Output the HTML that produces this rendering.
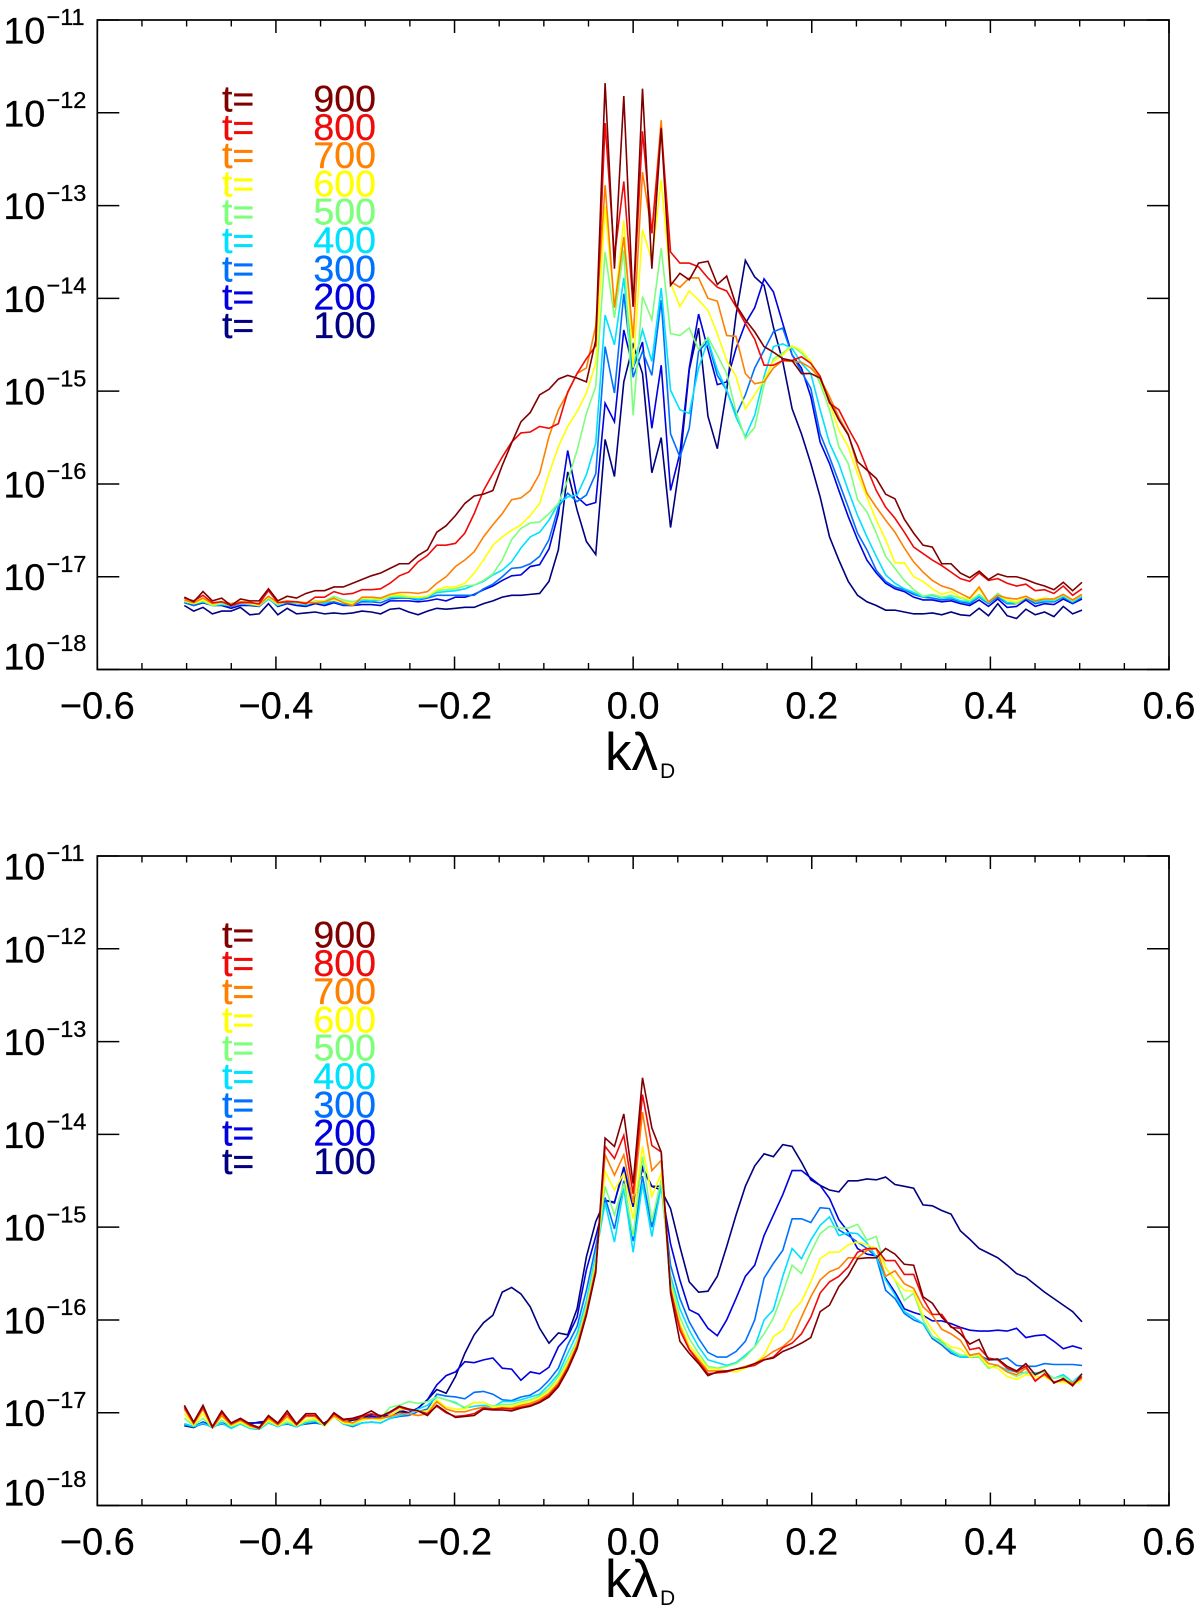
<!DOCTYPE html>
<html lang="en">
<head>
<meta charset="utf-8">
<title>Power spectra versus k lambda D</title>
<style>
html,body{margin:0;padding:0;background:#fff;}
svg{display:block;font-family:"Liberation Sans",sans-serif;}
</style>
</head>
<body>
<svg id="chart" xmlns="http://www.w3.org/2000/svg" width="1200" height="1608" viewBox="0 0 1200 1608">
  <rect x="0" y="0" width="1200" height="1608" fill="#ffffff"/>
  <text x="605" y="770" font-size="53" fill="#000">kλ<tspan font-size="21" dy="8" dx="2">D</tspan></text>
  <text x="605" y="1597" font-size="53" fill="#000">kλ<tspan font-size="21" dy="8" dx="2">D</tspan></text>
</svg>
<script>
// Categories: spectral mode index (k = mode * modeSpacing)
const waveModes = [-48,-47,-46,-45,-44,-43,-42,-41,-40,-39,-38,-37,-36,-35,-34,-33,-32,-31,-30,-29,-28,-27,-26,-25,-24,-23,-22,-21,-20,-19,-18,-17,-16,-15,-14,-13,-12,-11,-10,-9,-8,-7,-6,-5,-4,-3,-2,-1,0,1,2,3,4,5,6,7,8,9,10,11,12,13,14,15,16,17,18,19,20,21,22,23,24,25,26,27,28,29,30,31,32,33,34,35,36,37,38,39,40,41,42,43,44,45,46,47,48];
const modeSpacing = 0.01047;

// Labels
const timeLabels = ["900","800","700","600","500","400","300","200","100"];
const timeColors = ["#800000","#f00a0a","#ff8000","#ffff00","#7dff7a","#00e0ff","#0070ff","#0000e0","#000080"];
const xTickLabels = ["\u22120.6","\u22120.4","\u22120.2","0.0","0.2","0.4","0.6"];
const xTickValues = [-0.6,-0.4,-0.2,0,0.2,0.4,0.6];
const xMinorTickValues = [-0.55,-0.5,-0.45,-0.35,-0.3,-0.25,-0.15,-0.1,-0.05,0.05,0.1,0.15,0.25,0.3,0.35,0.45,0.5,0.55];
const yTickExponents = [-11,-12,-13,-14,-15,-16,-17,-18];
const yTickLabels = ["\u221211","\u221212","\u221213","\u221214","\u221215","\u221216","\u221217","\u221218"];

// Top panel: log10(power) per mode
const topT100 = [-17.31,-17.37,-17.33,-17.40,-17.37,-17.37,-17.33,-17.41,-17.40,-17.29,-17.41,-17.34,-17.40,-17.39,-17.38,-17.40,-17.39,-17.40,-17.39,-17.37,-17.38,-17.40,-17.35,-17.34,-17.38,-17.41,-17.37,-17.34,-17.35,-17.34,-17.33,-17.33,-17.29,-17.26,-17.22,-17.20,-17.20,-17.19,-17.18,-17.05,
-16.71,-15.87,-16.28,-16.62,-16.76,-15.52,-15.92,-14.90,-14.50,-14.81,-15.88,-15.50,-16.47,-15.78,-14.77,-14.32,-15.27,
-15.62,-14.99,-14.18,-13.59,-13.77,-13.86,-14.31,-14.68,-15.19,-15.46,-15.78,-16.14,-16.57,-16.82,-17.05,-17.20,-17.27,-17.31,-17.36,-17.36,-17.38,-17.40,-17.40,-17.39,-17.41,-17.38,-17.41,-17.42,-17.34,-17.42,-17.29,-17.42,-17.45,-17.35,-17.41,-17.38,-17.43,-17.32,-17.40,-17.36];
const topT200 = [-17.27,-17.31,-17.28,-17.31,-17.31,-17.34,-17.31,-17.31,-17.32,-17.23,-17.32,-17.29,-17.31,-17.32,-17.29,-17.31,-17.28,-17.31,-17.31,-17.30,-17.30,-17.31,-17.26,-17.26,-17.26,-17.27,-17.26,-17.24,-17.26,-17.22,-17.22,-17.19,-17.14,-17.10,-17.04,-16.99,-16.98,-16.89,-16.87,-16.70,
-16.32,-15.64,-16.14,-16.23,-16.20,-15.13,-15.33,-14.34,-14.75,-14.47,-15.40,-14.72,-16.07,-15.67,-14.75,-14.17,-14.55,
-14.93,-14.90,-14.54,-14.27,-14.10,-13.79,-13.93,-14.27,-14.61,-14.75,-15.06,-15.55,-15.78,-16.07,-16.35,-16.60,-16.82,-16.96,-17.07,-17.13,-17.16,-17.22,-17.25,-17.25,-17.27,-17.26,-17.29,-17.31,-17.25,-17.32,-17.24,-17.33,-17.32,-17.25,-17.32,-17.29,-17.30,-17.24,-17.29,-17.24];
const topT300 = [-17.28,-17.31,-17.27,-17.31,-17.30,-17.32,-17.29,-17.30,-17.32,-17.24,-17.31,-17.28,-17.29,-17.31,-17.27,-17.29,-17.27,-17.30,-17.31,-17.27,-17.27,-17.28,-17.24,-17.23,-17.23,-17.25,-17.23,-17.20,-17.20,-17.20,-17.20,-17.20,-17.13,-17.08,-17.00,-16.91,-16.90,-16.86,-16.78,-16.60,
-16.25,-16.10,-16.19,-16.12,-15.89,-14.52,-15.02,-13.95,-14.85,-14.57,-14.83,-14.02,-15.46,-15.71,-15.40,-14.57,-14.46,
-14.83,-14.99,-15.26,-15.04,-14.75,-14.56,-14.36,-14.32,-14.61,-14.79,-14.97,-15.46,-15.71,-15.98,-16.25,-16.53,-16.71,-16.93,-17.05,-17.11,-17.14,-17.19,-17.22,-17.23,-17.25,-17.24,-17.27,-17.29,-17.22,-17.29,-17.22,-17.29,-17.29,-17.23,-17.29,-17.27,-17.27,-17.22,-17.28,-17.22];
const topT400 = [-17.27,-17.29,-17.27,-17.31,-17.30,-17.31,-17.29,-17.30,-17.31,-17.24,-17.31,-17.27,-17.29,-17.30,-17.27,-17.29,-17.24,-17.27,-17.29,-17.25,-17.26,-17.25,-17.22,-17.22,-17.22,-17.24,-17.22,-17.17,-17.16,-17.15,-17.13,-17.09,-17.05,-16.98,-16.93,-16.84,-16.69,-16.57,-16.52,-16.39,
-16.21,-16.14,-16.12,-15.90,-15.56,-14.18,-14.50,-13.78,-14.75,-14.34,-14.68,-13.89,-14.99,-15.20,-15.24,-14.75,-14.45,
-14.77,-14.99,-15.28,-15.49,-15.26,-14.84,-14.52,-14.49,-14.54,-14.70,-14.81,-15.20,-15.56,-15.78,-16.07,-16.34,-16.57,-16.78,-16.98,-17.07,-17.13,-17.17,-17.22,-17.20,-17.23,-17.22,-17.26,-17.27,-17.21,-17.28,-17.20,-17.28,-17.28,-17.22,-17.27,-17.26,-17.26,-17.21,-17.27,-17.21];
const topT500 = [-17.26,-17.29,-17.26,-17.31,-17.29,-17.31,-17.28,-17.29,-17.30,-17.23,-17.30,-17.27,-17.28,-17.29,-17.26,-17.26,-17.21,-17.25,-17.27,-17.24,-17.24,-17.25,-17.21,-17.21,-17.22,-17.22,-17.21,-17.15,-17.14,-17.13,-17.10,-17.09,-17.04,-16.97,-16.82,-16.60,-16.48,-16.42,-16.41,-16.32,
-16.21,-15.96,-15.64,-15.24,-14.95,-13.50,-14.21,-13.48,-15.26,-13.98,-14.23,-13.46,-14.38,-14.40,-14.32,-14.55,-14.42,
-14.61,-14.81,-15.22,-15.51,-15.39,-14.93,-14.65,-14.59,-14.51,-14.59,-14.70,-14.92,-15.20,-15.60,-15.78,-16.17,-16.30,-16.53,-16.78,-16.91,-17.04,-17.14,-17.21,-17.19,-17.22,-17.20,-17.23,-17.26,-17.19,-17.27,-17.18,-17.25,-17.29,-17.22,-17.26,-17.24,-17.25,-17.20,-17.26,-17.20];
const topT600 = [-17.26,-17.29,-17.25,-17.30,-17.27,-17.31,-17.28,-17.29,-17.31,-17.22,-17.29,-17.26,-17.28,-17.29,-17.27,-17.26,-17.25,-17.27,-17.29,-17.23,-17.23,-17.24,-17.20,-17.19,-17.21,-17.22,-17.21,-17.14,-17.11,-17.11,-17.07,-16.96,-16.82,-16.66,-16.57,-16.50,-16.44,-16.34,-16.21,-15.89,
-15.60,-15.38,-15.22,-15.02,-14.70,-13.01,-14.10,-13.16,-14.74,-13.26,-13.59,-12.72,-13.83,-14.09,-13.92,-14.02,-14.13,
-14.38,-14.67,-14.84,-15.19,-15.04,-14.88,-14.68,-14.61,-14.51,-14.56,-14.68,-14.88,-15.13,-15.42,-15.60,-15.89,-16.14,-16.39,-16.60,-16.85,-16.85,-17.00,-17.05,-17.13,-17.19,-17.16,-17.22,-17.24,-17.13,-17.27,-17.20,-17.25,-17.27,-17.22,-17.25,-17.23,-17.24,-17.19,-17.25,-17.19];
const topT700 = [-17.25,-17.28,-17.23,-17.29,-17.27,-17.29,-17.27,-17.27,-17.30,-17.21,-17.28,-17.26,-17.27,-17.28,-17.28,-17.27,-17.23,-17.28,-17.31,-17.22,-17.22,-17.23,-17.19,-17.17,-17.17,-17.18,-17.16,-17.07,-17.00,-16.89,-16.82,-16.73,-16.57,-16.44,-16.32,-16.17,-16.15,-16.07,-15.89,-15.49,
-15.20,-15.02,-14.81,-14.75,-14.30,-12.78,-14.10,-13.34,-14.43,-12.64,-13.30,-12.08,-13.82,-13.88,-13.78,-13.78,-14.00,
-14.03,-14.40,-14.41,-14.81,-14.92,-14.90,-14.75,-14.67,-14.68,-14.69,-14.75,-14.86,-15.06,-15.28,-15.46,-15.81,-16.10,-16.25,-16.39,-16.52,-16.69,-16.84,-16.95,-17.04,-17.10,-17.13,-17.18,-17.23,-17.11,-17.27,-17.20,-17.23,-17.24,-17.21,-17.26,-17.24,-17.24,-17.19,-17.25,-17.19];
const topT800 = [-17.23,-17.26,-17.20,-17.28,-17.27,-17.31,-17.28,-17.28,-17.29,-17.15,-17.28,-17.27,-17.27,-17.29,-17.22,-17.22,-17.16,-17.19,-17.18,-17.14,-17.14,-17.13,-17.07,-16.99,-16.95,-16.84,-16.77,-16.66,-16.66,-16.64,-16.53,-16.32,-16.07,-15.89,-15.71,-15.55,-15.45,-15.44,-15.38,-15.40,
-15.35,-15.01,-14.81,-14.65,-14.51,-12.11,-13.55,-12.74,-14.09,-12.20,-13.30,-12.16,-13.50,-13.62,-13.62,-13.66,-13.78,
-13.88,-13.92,-14.09,-14.27,-14.44,-14.72,-14.72,-14.67,-14.67,-14.63,-14.70,-14.84,-15.13,-15.20,-15.40,-15.58,-15.83,-16.07,-16.25,-16.37,-16.52,-16.68,-16.75,-16.82,-16.88,-16.95,-17.02,-17.05,-16.96,-17.04,-17.02,-17.07,-17.10,-17.08,-17.15,-17.14,-17.18,-17.10,-17.20,-17.13];
const topT900 = [-17.22,-17.27,-17.16,-17.26,-17.23,-17.31,-17.24,-17.26,-17.26,-17.13,-17.26,-17.21,-17.23,-17.18,-17.15,-17.15,-17.11,-17.11,-17.07,-17.03,-16.99,-16.96,-16.91,-16.86,-16.86,-16.77,-16.71,-16.52,-16.45,-16.34,-16.21,-16.13,-16.11,-16.07,-15.80,-15.56,-15.33,-15.23,-15.04,-14.98,
-14.87,-14.83,-14.86,-14.90,-14.45,-11.68,-13.68,-11.82,-14.09,-11.74,-13.68,-12.17,-13.86,-13.73,-13.80,-13.62,-13.60,
-13.85,-13.76,-14.07,-14.23,-14.36,-14.52,-14.58,-14.65,-14.67,-14.81,-14.81,-14.86,-15.11,-15.31,-15.47,-15.76,-15.85,-15.94,-16.11,-16.16,-16.38,-16.53,-16.66,-16.68,-16.86,-16.86,-16.96,-17.01,-16.94,-17.03,-16.97,-17.00,-17.00,-17.03,-17.07,-17.10,-17.14,-17.06,-17.15,-17.06];

// Bottom panel: log10(power) per mode
const bottomT100 = [-17.14,-17.16,-17.11,-17.15,-17.11,-17.14,-17.11,-17.11,-17.11,-17.11,-17.14,-17.12,-17.14,-17.12,-17.11,-17.11,-17.04,-17.11,-17.08,-17.06,-17.02,-17.03,-17.03,-16.97,-17.00,-16.95,-16.86,-16.75,-16.79,-16.61,-16.36,-16.16,-16.03,-15.95,-15.70,-15.65,-15.72,-15.86,-16.09,-16.25,-16.14,-16.16,-15.88,-15.32,-14.94,
-14.71,-14.73,-14.39,-14.78,-14.37,-14.56,-14.60,-14.80,-15.21,-15.59,-15.70,
-15.69,-15.53,-15.21,-14.87,-14.56,-14.34,-14.21,-14.24,-14.11,-14.13,-14.30,-14.49,-14.55,-14.60,-14.62,-14.50,-14.50,-14.48,-14.49,-14.46,-14.54,-14.56,-14.58,-14.76,-14.77,-14.82,-14.86,-15.04,-15.13,-15.23,-15.28,-15.33,-15.41,-15.50,-15.54,-15.62,-15.70,-15.77,-15.84,-15.91,-16.02];
const bottomT200 = [-17.12,-17.15,-17.10,-17.14,-17.11,-17.14,-17.12,-17.12,-17.10,-17.09,-17.14,-17.11,-17.15,-17.11,-17.10,-17.12,-17.04,-17.11,-17.11,-17.08,-17.04,-17.05,-17.03,-16.99,-17.00,-16.95,-16.86,-16.70,-16.60,-16.56,-16.45,-16.46,-16.43,-16.41,-16.52,-16.53,-16.65,-16.56,-16.58,-16.51,-16.29,-16.18,-15.97,-15.46,-15.10,
-14.71,-14.74,-14.35,-14.78,-14.35,-14.56,-14.56,-15.18,-15.57,-15.89,-15.94,
-16.09,-16.17,-16.00,-15.77,-15.53,-15.41,-15.09,-14.87,-14.65,-14.39,-14.39,-14.47,-14.55,-14.69,-14.92,-15.05,-15.23,-15.29,-15.31,-15.55,-15.70,-15.88,-15.92,-15.95,-16.01,-16.01,-16.04,-16.08,-16.11,-16.12,-16.12,-16.11,-16.12,-16.09,-16.19,-16.17,-16.16,-16.23,-16.31,-16.28,-16.31];
const bottomT300 = [-17.13,-17.15,-17.12,-17.15,-17.12,-17.15,-17.12,-17.16,-17.16,-17.11,-17.14,-17.12,-17.15,-17.11,-17.11,-17.13,-17.04,-17.12,-17.15,-17.11,-17.10,-17.11,-17.06,-17.04,-17.03,-16.99,-16.96,-16.80,-16.82,-16.83,-16.85,-16.78,-16.77,-16.80,-16.86,-16.87,-16.83,-16.81,-16.75,-16.65,-16.52,-16.27,-16.07,-15.68,-15.21,
-14.68,-15.02,-14.50,-15.15,-14.45,-15.00,-14.55,-15.41,-15.77,-16.02,-16.20,
-16.35,-16.40,-16.40,-16.34,-16.23,-16.00,-15.55,-15.39,-15.25,-14.91,-14.91,-14.95,-14.79,-14.80,-15.03,-15.09,-15.16,-15.23,-15.32,-15.68,-15.77,-15.93,-16.00,-16.04,-16.20,-16.27,-16.36,-16.40,-16.40,-16.38,-16.43,-16.43,-16.41,-16.49,-16.50,-16.50,-16.47,-16.48,-16.48,-16.48,-16.49];
const bottomT400 = [-17.12,-17.15,-17.11,-17.16,-17.11,-17.17,-17.12,-17.17,-17.18,-17.11,-17.15,-17.11,-17.15,-17.11,-17.09,-17.14,-17.03,-17.12,-17.14,-17.11,-17.10,-17.11,-17.06,-17.03,-17.01,-16.96,-16.92,-16.83,-16.86,-16.89,-16.95,-16.93,-16.92,-16.94,-16.88,-16.88,-16.86,-16.83,-16.80,-16.70,-16.58,-16.36,-16.15,-15.79,-15.30,
-14.74,-15.16,-14.58,-15.27,-14.53,-15.10,-14.56,-15.52,-15.88,-16.11,-16.29,
-16.43,-16.46,-16.49,-16.46,-16.38,-16.29,-16.00,-15.89,-15.53,-15.23,-15.34,-15.14,-14.98,-14.89,-15.09,-15.06,-15.07,-15.17,-15.32,-15.57,-15.73,-15.91,-15.97,-16.04,-16.18,-16.23,-16.34,-16.40,-16.40,-16.40,-16.52,-16.49,-16.54,-16.56,-16.57,-16.57,-16.56,-16.63,-16.59,-16.67,-16.58];
const bottomT500 = [-17.06,-17.14,-17.06,-17.16,-17.08,-17.15,-17.11,-17.16,-17.17,-17.10,-17.14,-17.10,-17.14,-17.09,-17.08,-17.14,-17.04,-17.11,-17.13,-17.08,-17.06,-17.06,-16.94,-16.92,-16.88,-16.90,-16.88,-16.83,-16.86,-16.90,-16.94,-16.89,-16.89,-16.93,-16.91,-16.91,-16.88,-16.86,-16.82,-16.74,-16.61,-16.43,-16.22,-15.84,-15.35,
-14.56,-14.87,-14.53,-15.10,-14.24,-14.94,-14.49,-15.57,-15.97,-16.20,-16.36,
-16.50,-16.52,-16.50,-16.47,-16.40,-16.29,-16.15,-15.98,-15.71,-15.41,-15.50,-15.27,-15.07,-14.99,-15.01,-15.01,-14.97,-15.14,-15.10,-15.44,-15.57,-15.79,-15.71,-16.00,-16.18,-16.25,-16.32,-16.38,-16.38,-16.40,-16.52,-16.49,-16.56,-16.61,-16.56,-16.59,-16.56,-16.63,-16.61,-16.68,-16.61];
const bottomT600 = [-17.01,-17.13,-17.01,-17.16,-17.04,-17.14,-17.10,-17.15,-17.17,-17.08,-17.14,-17.07,-17.14,-17.08,-17.06,-17.14,-17.04,-17.11,-17.12,-17.08,-17.06,-17.08,-17.03,-16.97,-16.96,-16.99,-16.98,-16.86,-16.94,-16.96,-16.96,-16.89,-16.89,-16.94,-16.93,-16.93,-16.90,-16.88,-16.84,-16.76,-16.65,-16.47,-16.25,-15.89,-15.41,
-14.40,-14.60,-14.42,-14.91,-14.13,-14.67,-14.42,-15.63,-16.04,-16.27,-16.40,
-16.52,-16.53,-16.55,-16.56,-16.52,-16.47,-16.38,-16.18,-16.11,-15.91,-15.80,-15.59,-15.34,-15.27,-15.27,-15.19,-15.16,-15.19,-15.23,-15.43,-15.57,-15.68,-15.69,-15.95,-16.11,-16.22,-16.29,-16.31,-16.40,-16.38,-16.50,-16.52,-16.61,-16.64,-16.59,-16.61,-16.61,-16.67,-16.67,-16.70,-16.65];
const bottomT700 = [-16.96,-17.12,-16.96,-17.16,-17.03,-17.13,-17.08,-17.14,-17.17,-17.06,-17.13,-17.04,-17.13,-17.04,-17.04,-17.13,-17.03,-17.09,-17.11,-17.06,-17.06,-17.06,-17.04,-17.01,-17.01,-17.03,-17.01,-16.88,-16.96,-16.99,-16.99,-16.96,-16.94,-16.96,-16.95,-16.95,-16.92,-16.90,-16.86,-16.79,-16.68,-16.50,-16.27,-15.91,-15.44,
-14.22,-14.44,-14.22,-14.74,-13.76,-14.39,-14.28,-15.66,-16.07,-16.31,-16.43,
-16.55,-16.55,-16.55,-16.53,-16.50,-16.47,-16.41,-16.34,-16.29,-16.20,-15.97,-15.75,-15.57,-15.48,-15.44,-15.33,-15.33,-15.25,-15.23,-15.53,-15.47,-15.61,-15.66,-15.86,-15.95,-16.10,-16.15,-16.22,-16.38,-16.36,-16.47,-16.49,-16.56,-16.59,-16.52,-16.65,-16.59,-16.67,-16.65,-16.68,-16.63];
const bottomT800 = [-16.94,-17.11,-16.94,-17.16,-17.00,-17.12,-17.07,-17.13,-17.17,-17.04,-17.12,-17.01,-17.13,-17.03,-17.03,-17.13,-17.01,-17.08,-17.07,-17.04,-17.01,-17.04,-17.00,-16.94,-16.97,-16.98,-17.01,-16.93,-17.00,-17.04,-17.03,-17.01,-16.95,-16.96,-16.95,-16.96,-16.94,-16.92,-16.88,-16.81,-16.70,-16.52,-16.29,-15.93,-15.47,
-14.13,-14.26,-14.01,-14.64,-13.57,-14.12,-14.19,-15.68,-16.11,-16.32,-16.45,
-16.58,-16.57,-16.56,-16.53,-16.51,-16.49,-16.43,-16.40,-16.30,-16.25,-16.15,-15.97,-15.71,-15.59,-15.53,-15.43,-15.27,-15.23,-15.23,-15.36,-15.36,-15.51,-15.51,-15.77,-15.94,-15.94,-16.08,-16.09,-16.32,-16.30,-16.41,-16.43,-16.52,-16.56,-16.50,-16.66,-16.58,-16.67,-16.64,-16.70,-16.61];
const bottomT900 = [-16.92,-17.10,-16.92,-17.15,-16.98,-17.11,-17.06,-17.12,-17.16,-17.03,-17.11,-16.98,-17.12,-17.01,-17.01,-17.13,-17.00,-17.07,-17.06,-17.03,-16.98,-17.04,-16.99,-16.93,-16.96,-16.98,-17.03,-16.92,-16.99,-17.05,-17.04,-17.03,-16.96,-16.97,-16.97,-16.98,-16.95,-16.93,-16.89,-16.83,-16.72,-16.54,-16.31,-15.95,-15.49,
-14.04,-14.13,-13.78,-14.53,-13.39,-13.93,-14.19,-15.71,-16.23,-16.36,-16.47,
-16.60,-16.56,-16.55,-16.53,-16.51,-16.47,-16.43,-16.41,-16.34,-16.30,-16.25,-16.19,-15.91,-15.84,-15.64,-15.52,-15.34,-15.33,-15.33,-15.23,-15.29,-15.40,-15.41,-15.75,-15.82,-15.97,-16.07,-16.15,-16.26,-16.21,-16.43,-16.42,-16.50,-16.55,-16.47,-16.59,-16.54,-16.68,-16.63,-16.71,-16.58];

const topSeries = [topT100, topT200, topT300, topT400, topT500, topT600, topT700, topT800, topT900];
const bottomSeries = [bottomT100, bottomT200, bottomT300, bottomT400, bottomT500, bottomT600, bottomT700, bottomT800, bottomT900];

const svg = document.getElementById('chart');
const NS = 'http://www.w3.org/2000/svg';

function xScale(k) {
  return 97.3 + (k + 0.6) / 1.2 * (1169 - 97.3);
}
function yScale(logValue, panelTop) {
  return panelTop + (-11 - logValue) * 92.79;
}
function make(tag, attrs, text) {
  const el = document.createElementNS(NS, tag);
  for (const key in attrs) el.setAttribute(key, attrs[key]);
  if (text !== undefined) el.textContent = text;
  svg.appendChild(el);
  return el;
}

function drawPanel(prefix, panelTop, seriesList) {
  const panelBottom = panelTop + 649.5;
  const left = xScale(-0.6);
  const right = xScale(0.6);

  // series, earliest time first so latest lies on top
  seriesList.forEach(function (values, s) {
    const colorIndex = timeColors.length - 1 - s;
    const d = values.map(function (v, i) {
      const px = xScale(waveModes[i] * modeSpacing).toFixed(2);
      const py = yScale(v, panelTop).toFixed(2);
      return (i === 0 ? 'M' : 'L') + px + ' ' + py;
    }).join('');
    const line = make('path', {d: d, fill: 'none', stroke: timeColors[colorIndex], 'stroke-width': 1.6, 'stroke-linejoin': 'miter'});
    
    
  });

  // frame
  const frame = make('rect', {x: left, y: panelTop, width: right - left, height: panelBottom - panelTop, fill: 'none', stroke: '#000', 'stroke-width': 1.7});
  
  

  // x ticks and labels
  xTickValues.forEach(function (k, i) {
    const x = xScale(k);
    const tb = make('line', {x1: x, x2: x, y1: panelBottom, y2: panelBottom - 13, stroke: '#000', 'stroke-width': 1.5});
    
    
    const tt = make('line', {x1: x, x2: x, y1: panelTop, y2: panelTop + 13, stroke: '#000', 'stroke-width': 1.5});
    
    
    const label = make('text', {x: x, y: panelBottom + 49, 'font-size': 38, 'text-anchor': 'middle', fill: '#000', stroke: '#000', 'stroke-width': 0.3}, xTickLabels[i]);
    
    
  });
  xMinorTickValues.forEach(function (k) {
    const x = xScale(k);
    const mb = make('line', {x1: x, x2: x, y1: panelBottom, y2: panelBottom - 6.5, stroke: '#000', 'stroke-width': 1.4});
    
    
    const mt = make('line', {x1: x, x2: x, y1: panelTop, y2: panelTop + 6.5, stroke: '#000', 'stroke-width': 1.4});
    
    
  });

  // y ticks and labels
  yTickExponents.forEach(function (e, i) {
    const y = yScale(e, panelTop);
    const tl = make('line', {x1: left, x2: left + 22, y1: y, y2: y, stroke: '#000', 'stroke-width': 1.5});
    
    
    const tr = make('line', {x1: right, x2: right - 22, y1: y, y2: y, stroke: '#000', 'stroke-width': 1.5});
    
    
    const shift = e === -11 ? 23.5 : (e === -18 ? 0 : 13.5);
    const base = make('text', {x: 3.5, y: y + shift, 'font-size': 37.5, fill: '#000', stroke: '#000', 'stroke-width': 0.3}, '10');
    
    
    const sup = make('text', {x: 46.5, y: y + shift - 18.3, 'font-size': 23.5, fill: '#000', stroke: '#000', 'stroke-width': 0.3}, yTickLabels[i]);
    
    
  });

  // legend
  timeLabels.forEach(function (label, i) {
    const baseline = panelTop + 91.5 + i * 28.3;
    const tEq = make('text', {x: 222, y: baseline, 'font-size': 37.5, fill: timeColors[i], stroke: timeColors[i], 'stroke-width': 0.3}, 't=');
    
    
    const val = make('text', {x: 376, y: baseline, 'font-size': 37.5, 'text-anchor': 'end', fill: timeColors[i], stroke: timeColors[i], 'stroke-width': 0.3}, label);
    
    
  });
}

drawPanel('top', 20, topSeries);
drawPanel('bottom', 856, bottomSeries);
</script>
</body>
</html>
